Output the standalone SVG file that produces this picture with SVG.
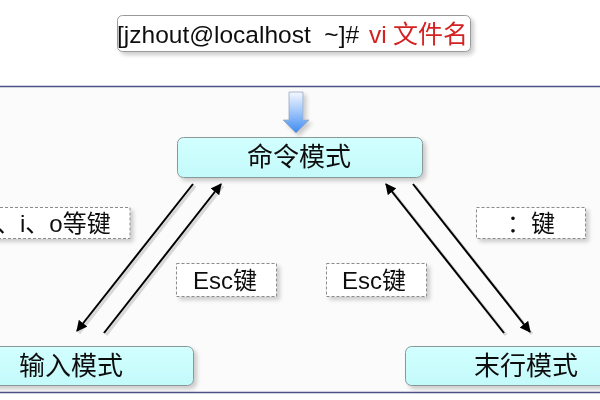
<svg xmlns="http://www.w3.org/2000/svg" width="600" height="400" viewBox="0 0 600 400">
<defs>
<style>
.t{font-family:"Liberation Sans","Noto Sans CJK SC",sans-serif;font-size:24px;fill:#111}
.n{font-size:26px}
.node rect{fill:url(#cyan);stroke:#8a9898;stroke-width:1}
.lbl rect{fill:#fff;stroke:#8c8c8c;stroke-width:1;stroke-dasharray:3 2}
.c line{stroke:#000;stroke-width:2}
.sh line{stroke:#d8d8d8;stroke-width:3}
</style>
<linearGradient id="cyan" x1="0" y1="0" x2="0" y2="1"><stop offset="0" stop-color="#d2ffff"/><stop offset="1" stop-color="#c4fafa"/></linearGradient>
<linearGradient id="blue" x1="0" y1="0" x2="0" y2="1"><stop offset="0" stop-color="#f4f8ff"/><stop offset="0.5" stop-color="#9cc4fa"/><stop offset="1" stop-color="#3d8af0"/></linearGradient>
<filter id="ds" x="-10%" y="-20%" width="130%" height="160%"><feGaussianBlur in="SourceAlpha" stdDeviation="2"/><feOffset dx="3" dy="3"/><feComponentTransfer><feFuncA type="linear" slope="0.2"/></feComponentTransfer><feMerge><feMergeNode/><feMergeNode in="SourceGraphic"/></feMerge></filter>
<marker id="ah" viewBox="0 0 10 10" refX="9" refY="5" markerWidth="5.5" markerHeight="5.5" orient="auto" markerUnits="strokeWidth"><path d="M0,0L10,5L0,10z" fill="#000"/></marker>
</defs>
<rect width="600" height="400" fill="#fff"/>
<rect x="0" y="86" width="600" height="306" fill="#fbfbfb"/>
<line x1="0" y1="86.5" x2="600" y2="86.5" stroke="#4d5285" stroke-width="1.5"/>
<line x1="0" y1="392.5" x2="600" y2="392.5" stroke="#4d5285" stroke-width="1.5"/>
<g id="cmdline" filter="url(#ds)">
<rect x="117.5" y="15.5" width="353" height="36" rx="5" fill="#fff" stroke="#9a9a9a"/>
<text class="t" x="117" y="43" style="font-size:24.5px"><tspan>[jzhout@localhost&#160;&#160;~]#</tspan><tspan x="369" fill="#d42020">vi</tspan><tspan x="393" fill="#d42020" style="font-size:25px">文件名</tspan></text>
</g>
<g id="start-arrow" filter="url(#ds)">
<path d="M289,92H303V120H309L296,133L283,120H289Z" fill="url(#blue)" stroke="#9aa8c0" stroke-width="0.8"/>
</g>
<g id="command-mode" class="node" filter="url(#ds)">
<rect x="177.5" y="137.5" width="245" height="40" rx="6"/>
<text class="t n" x="299" y="166" text-anchor="middle">命令模式</text>
</g>
<g id="insert-mode" class="node" filter="url(#ds)">
<rect x="-10" y="346.5" width="203.5" height="39" rx="6"/>
<text class="t n" x="71" y="375" text-anchor="middle">输入模式</text>
</g>
<g id="lastline-mode" class="node" filter="url(#ds)">
<rect x="405.5" y="346.5" width="210" height="39" rx="6"/>
<text class="t n" x="526" y="375" text-anchor="middle">末行模式</text>
</g>
<g id="connectors">
<g class="sh">
<line x1="195" y1="186" x2="79" y2="333"/>
<line x1="106" y1="335" x2="223" y2="186"/>
<line x1="506" y1="335" x2="388" y2="186"/>
<line x1="415" y1="186" x2="532" y2="334"/>
</g>
<g class="c">
<line x1="193" y1="184" x2="77" y2="331" marker-end="url(#ah)"/>
<line x1="104" y1="333" x2="221" y2="184" marker-end="url(#ah)"/>
<line x1="504" y1="333" x2="386" y2="184" marker-end="url(#ah)"/>
<line x1="413" y1="184" x2="530" y2="332" marker-end="url(#ah)"/>
</g>
</g>
<g id="label-aio" class="lbl" filter="url(#ds)">
<rect x="-10" y="207.5" width="140" height="31"/>
<text class="t" x="-4" y="232">、i、o等键</text>
</g>
<g id="label-colon" class="lbl" filter="url(#ds)">
<rect x="476.5" y="207.5" width="109" height="31"/>
<text class="t" x="507" y="232">：键</text>
</g>
<g id="label-esc-left" class="lbl" filter="url(#ds)">
<rect x="176.5" y="263.5" width="100" height="33"/>
<text class="t" x="193" y="289">Esc键</text>
</g>
<g id="label-esc-right" class="lbl" filter="url(#ds)">
<rect x="326.5" y="263.5" width="100" height="33"/>
<text class="t" x="342" y="289">Esc键</text>
</g>
</svg>
